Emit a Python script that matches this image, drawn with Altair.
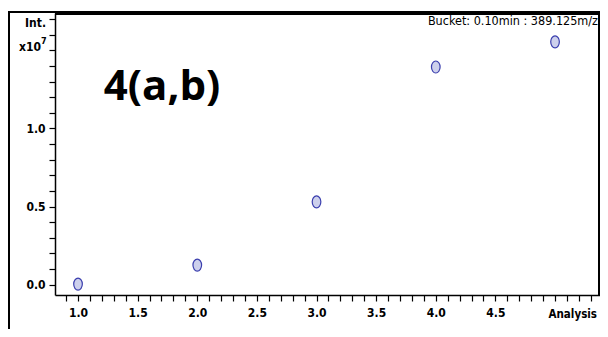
import altair as alt
import pandas as pd

# data
analysis = [1.0, 2.0, 3.0, 4.0, 5.0]
intensity = [0.003, 0.125, 0.530, 1.394, 1.555]  # x10^7
x_ticks = [round(0.9 + 0.1 * i, 1) for i in range(45)]   # 0.9 .. 5.3
y_ticks = [round(0.1 * i, 1) for i in range(18)]         # 0.0 .. 1.7
title_text = "4(a,b)"
bucket_text = "Bucket: 0.10min : 389.125m/z"

df = pd.DataFrame({"analysis": analysis, "intensity": intensity})

FONT = "'DejaVu Sans Condensed', 'Liberation Sans', sans-serif"
ellipse = "M-0.72,0A0.72,1,0,1,1,0.72,0A0.72,1,0,1,1,-0.72,0Z"

W, H = 545, 282

xscale = alt.Scale(domain=[0.807, 5.377], nice=False, zero=False)
yscale = alt.Scale(domain=[-0.067, 1.74], nice=False, zero=False)

major_x = "abs(datum.value*2 - round(datum.value*2)) < 0.001 && datum.value < 4.9"
major_y = "abs(datum.value*2 - round(datum.value*2)) < 0.001 && datum.value < 1.1"

points = alt.Chart(df).mark_point(
    shape=ellipse, size=144, filled=True, fill="#cdd0ec",
    stroke="#3b3fae", strokeWidth=1.2, opacity=1
).encode(
    x=alt.X("analysis:Q", scale=xscale, axis=alt.Axis(
        values=x_ticks, title=None, grid=False,
        domainColor="black", domainWidth=1.5,
        tickColor="black", tickWidth=1.2, tickSize=6,
        labelExpr=f"({major_x}) ? format(datum.value, '.1f') : ''",
        labelFont=FONT, labelFontWeight="bold", labelFontSize=12,
        labelColor="black", labelPadding=6, labelOverlap=False,
        labelBound=False, labelFlush=False)),
    y=alt.Y("intensity:Q", scale=yscale, axis=alt.Axis(
        values=y_ticks, title=None, grid=False,
        domainColor="black", domainWidth=1.5,
        tickColor="black", tickWidth=1.2, tickSize=6,
        labelExpr=f"({major_y}) ? format(datum.value, '.1f') : ''",
        labelFont=FONT, labelFontWeight="bold", labelFontSize=12,
        labelColor="black", labelPadding=4, labelOverlap=False,
        labelBound=False, labelFlush=False)),
)

def rule(x, x2, y, y2, w):
    return alt.Chart(df).mark_rule(color="black", strokeWidth=w, clip=False).encode(
        x=alt.value(x), x2=alt.value(x2), y=alt.value(y), y2=alt.value(y2))

frame = (
    rule(0, 545, 0, 0, 3.5)
    + rule(-47, 0, -1, -1, 1.5)
    + rule(-46, -46, -1, 320, 1.5)
    + rule(544, 544, 0, H, 1.5)
)

def text(t, x, y, size, font=FONT, weight="normal", align="left"):
    return alt.Chart(pd.DataFrame({"t": [t]})).mark_text(
        font=font, fontSize=size, fontWeight=weight, align=align,
        baseline="alphabetic", color="black", clip=False
    ).encode(text="t:N", x=alt.value(x), y=alt.value(y))

labels = (
    text(title_text, 107, 87, 42, font="Open Sans", weight="bold", align="center")
    + text(bucket_text, 543, 12, 12.5, align="right")
    + text("Int.", -9, 14, 12, weight="bold", align="right")
    + text("x10", -14, 38, 12, weight="bold", align="right")
    + text("7", -14, 31, 9, weight="bold", align="left")
    + text("Analysis", 542, 305, 11.5, weight="bold", align="right")
)

chart = alt.layer(frame, points, labels).properties(
    width=W, height=H,
    autosize=alt.AutoSizeParams(type="none"),
    padding={"left": 47, "top": 5, "right": 0, "bottom": 34},
    background="white",
).configure_view(stroke=None)

chart.save("out.html", embed_options={"renderer": "svg", "actions": False})
